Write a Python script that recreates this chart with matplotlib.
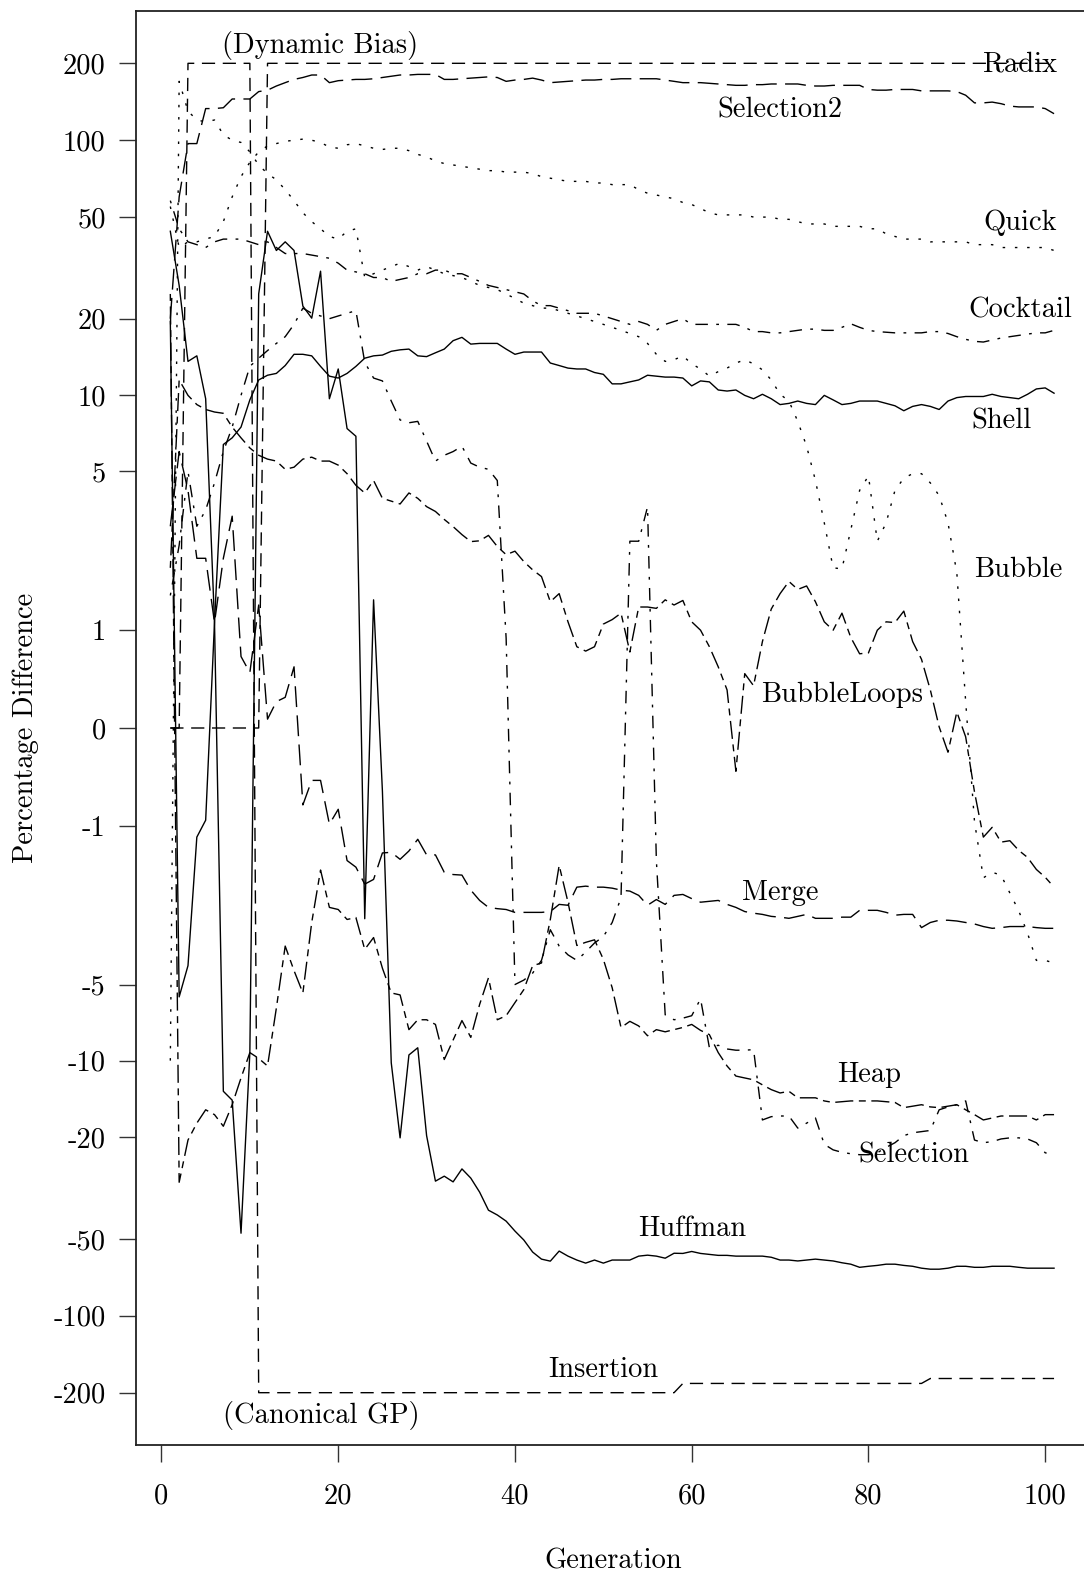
import numpy as np
import matplotlib
matplotlib.use("Agg")
import matplotlib.pyplot as plt
from matplotlib.ticker import NullLocator

plt.rcParams['font.family'] = ['cmr10', 'DejaVu Serif']
plt.rcParams['axes.unicode_minus'] = False
plt.rcParams['mathtext.fontset'] = 'cm'

generations = np.arange(1, 102)

radix = [0, 0, 0, 0, 0, 0, 0, 0, 0, 0, 0, 200, 200, 200, 200, 200, 200, 200, 200, 200,
         200, 200, 200, 200, 200, 200, 200, 200, 200, 200, 200, 200, 200, 200, 200, 200, 200, 200, 200, 200,
         200, 200, 200, 200, 200, 200, 200, 200, 200, 200, 200, 200, 200, 200, 200, 200, 200, 200, 200, 200,
         200, 200, 200, 200, 200, 200, 200, 200, 200, 200, 200, 200, 200, 200, 200, 200, 200, 200, 200, 200,
         200, 200, 200, 200, 200, 200, 200, 200, 200, 200, 200, 200, 200, 200, 200, 200, 200, 200, 200, 200,
         200]

insertion = [0, 0, 200, 200, 200, 200, 200, 200, 200, 200, -200, -200, -200, -200, -200, -200, -200, -200, -200, -200,
             -200, -200, -200, -200, -200, -200, -200, -200, -200, -200, -200, -200, -200, -200, -200, -200, -200, -200, -200, -200,
             -200, -200, -200, -200, -200, -200, -200, -200, -200, -200, -200, -200, -200, -200, -200, -200, -200, -200, -184, -184,
             -184, -184, -184, -184, -184, -184, -184, -184, -184, -184, -184, -184, -184, -184, -184, -184, -184, -184, -184, -184,
             -184, -184, -184, -184, -184, -184, -176, -176, -176, -176, -176, -176, -176, -176, -176, -176, -176, -176, -176, -176,
             -176]

selection2 = [20, 60, 97, 97, 133, 133, 134, 145, 145, 145, 155, 157, 163, 168, 173, 176, 180, 180, 168, 171,
              172, 173, 173, 174, 176, 178, 180, 180, 181, 181, 181, 173, 173, 174, 175, 176, 177, 176, 170, 172,
              173, 175, 172, 168, 169, 170, 171, 172, 172, 173, 173, 174, 174, 174, 174, 174, 172, 170, 168, 168,
              168, 167, 166, 165, 164, 164, 165, 165, 166, 166, 166, 166, 164, 163, 163, 164, 164, 164, 164, 158,
              157, 157, 158, 158, 158, 156, 156, 156, 156, 155, 150, 140, 140, 141, 139, 136, 135, 135, 135, 133,
              127]

quick = [55, 38, 40, 40, 41, 42, 48, 60, 72, 82, 90, 95, 97, 99, 100, 101, 100, 98, 94, 93,
         96, 97, 95, 93, 92, 93, 93, 91, 88, 86, 83, 81, 80, 79, 78, 77, 76, 76, 75, 75,
         75, 74, 72, 71, 70, 69, 69, 69, 68, 68, 67, 67, 67, 64, 62, 61, 60, 59, 57, 56,
         54, 52, 51, 51, 51, 51, 50, 50, 50, 49, 49, 48, 47, 47, 47, 46, 46, 46, 46, 45,
         45, 43, 42, 41, 41, 41, 40, 40, 40, 40, 40, 39, 39, 39, 38, 38, 38, 38, 38, 38,
         37]

cocktail = [58, 45, 40, 39, 38, 40, 41, 41, 41, 40, 39, 40, 38, 36, 36, 36, 35.5, 35, 34.5, 33,
            31, 30.5, 30, 29, 29, 28, 28.5, 29, 30, 30, 31, 31, 30, 30, 29, 28, 27, 26.5, 26, 25.5,
            25, 23.5, 22.5, 22.5, 22, 21.5, 21, 21, 21, 20.5, 20, 19.5, 19, 19.5, 19, 18, 19, 19.5, 20, 19,
            19, 19, 19, 19, 19, 18.5, 17.8, 17.8, 17.6, 17.6, 17.8, 18, 18.2, 18.2, 18, 18, 18.5, 19.1, 18.5, 18,
            17.8, 17.7, 17.6, 17.6, 17.6, 17.6, 17.8, 17.8, 17.5, 17, 16.6, 16.3, 16.2, 16.5, 16.8, 17, 17.2, 17.4, 17.6, 17.6,
            18]

shell = [19.5, -5.6, -4.2, -1.15, -0.93, 1.1, 6.4, 6.8, 7.5, 9.6, 11.5, 12, 12.2, 13.1, 14.5, 14.5, 14.3, 13.0, 11.9, 11.7,
         12.2, 13.0, 14.0, 14.3, 14.4, 14.9, 15.1, 15.2, 14.3, 14.2, 14.7, 15.2, 16.4, 16.9, 15.9, 16, 16, 16, 15.2, 14.5,
         14.8, 14.8, 14.8, 13.4, 13.1, 12.8, 12.7, 12.7, 12.3, 12.1, 11.1, 11.1, 11.3, 11.5, 12, 11.9, 11.8, 11.8, 11.7, 10.9,
         11.4, 11.3, 10.5, 10.4, 10.5, 10.0, 9.7, 10.1, 9.7, 9.2, 9.3, 9.5, 9.3, 9.2, 10.0, 9.6, 9.2, 9.3, 9.5, 9.5,
         9.5, 9.3, 9.1, 8.7, 9.05, 9.2, 9.05, 8.8, 9.5, 9.8, 9.9, 9.9, 9.9, 10.1, 9.9, 9.8, 9.7, 10.1, 10.6, 10.7,
         10.2]

bubble = [-10, 170, 130, 120, 118, 120, 105, 100, 98, 90, 80, 74, 70, 64, 58, 52, 48, 45, 42, 41,
          44, 45, 29, 30, 31, 32, 33, 32, 31, 32, 31, 30, 29.5, 29, 28, 27, 26.5, 26, 25, 24,
          23, 22.5, 22, 22, 21.5, 21, 20.5, 20, 19.5, 19, 18.5, 18, 17.5, 17, 16, 14.5, 13.6, 13.8, 14.3, 13.3,
          12.7, 11.9, 12.4, 12.8, 13.4, 13.8, 13.3, 12.6, 11.5, 10.1, 9.5, 7.9, 6.3, 4.6, 3.1, 2.0, 1.98, 2.9, 4.2, 4.8,
          2.6, 3.1, 4.2, 4.7, 4.9, 4.9, 4.5, 4.0, 3.1, 1.9, 0.24, -0.95, -1.8, -1.7, -1.75, -2.1, -2.5, -3.1, -4.0, -4.0,
          -4.1]

bubble_loops = [2, 11.5, 10, 9.2, 8.8, 8.6, 8.5, 7.5, 6.8, 6.2, 5.8, 5.6, 5.5, 5.1, 5.2, 5.6, 5.7, 5.5, 5.5, 5.3,
                4.9, 4.4, 4.1, 4.6, 3.9, 3.8, 3.7, 4.1, 3.9, 3.61, 3.45, 3.2, 2.99, 2.77, 2.59, 2.61, 2.75, 2.47, 2.28, 2.36,
                2.13, 1.96, 1.83, 1.40, 1.53, 1.11, 0.80, 0.75, 0.80, 1.08, 1.14, 1.23, 0.74, 1.32, 1.32, 1.30, 1.43, 1.35, 1.42, 1.11,
                1.0, 0.80, 0.58, 0.35, -0.40, 0.51, 0.39, 0.86, 1.29, 1.53, 1.74, 1.60, 1.66, 1.40, 1.11, 1.0, 1.23, 0.91, 0.72, 0.73,
                1.0, 1.11, 1.10, 1.26, 0.86, 0.66, 0.35, 0.01, -0.22, 0.145, -0.08, -0.61, -1.15, -1.02, -1.22, -1.2, -1.34, -1.45, -1.65, -1.79,
                -1.98]

merge = [3, 6, 4.2, 2.2, 2.2, 1.1, 2.2, 3.3, 0.69, 0.52, 1.35, 0.08, 0.24, 0.28, 0.58, -0.75, -0.49, -0.49, -0.98, -0.8,
         -1.5, -1.61, -1.92, -1.83, -1.38, -1.37, -1.48, -1.35, -1.18, -1.41, -1.41, -1.7, -1.74, -1.75, -2.04, -2.26, -2.42, -2.45, -2.47, -2.54,
         -2.54, -2.54, -2.54, -2.52, -2.35, -2.37, -1.98, -1.96, -1.98, -1.98, -2.0, -2.04, -2.06, -2.15, -2.37, -2.24, -2.35, -2.15, -2.13, -2.22,
         -2.3, -2.28, -2.26, -2.35, -2.42, -2.52, -2.56, -2.59, -2.64, -2.66, -2.69, -2.64, -2.59, -2.69, -2.69, -2.69, -2.66, -2.66, -2.49, -2.49,
         -2.49, -2.54, -2.61, -2.59, -2.59, -2.94, -2.8, -2.74, -2.74, -2.76, -2.8, -2.84, -2.91, -2.96, -2.94, -2.91, -2.91, -2.91, -2.94, -2.96,
         -2.96]

heap = [25, -30, -20.5, -17.6, -15.6, -16.3, -18.1, -14.9, -11.7, -9.3, -9.8, -10.5, -6.2, -3.5, -4.4, -5.4, -2.8, -1.66, -2.42, -2.47,
        -2.72, -2.67, -3.61, -3.23, -4.3, -5.4, -5.5, -7.55, -6.9, -6.9, -7.2, -9.9, -8.3, -6.95, -8.1, -6.0, -4.7, -6.9, -6.65, -5.9,
        -5.24, -4.2, -4.1, -2.72, -1.58, -2.3, -3.48, -3.38, -3.3, -3.96, -5.15, -7.41, -7.0, -7.3, -7.98, -7.55, -7.7, -7.55, -7.4, -7.2,
        -7.6, -7.9, -9.3, -10.5, -11.5, -11.7, -11.9, -12.45, -13.0, -13.4, -13.2, -14.0, -14.0, -14.0, -14.4, -14.6, -14.5, -14.4, -14.4, -14.4,
        -14.4, -14.5, -14.6, -15.3, -15.1, -14.9, -15.2, -15.3, -15.1, -14.9, -15.6, -16.3, -17.1, -16.8, -16.5, -16.5, -16.5, -16.5, -17.1, -16.3,
        -16.3]

selection = [1.5, 2.5, 5, 3, 3.5, 4.5, 6, 7.5, 10, 13, 14, 15, 16, 17, 19, 22, 21, 20.5, 20, 20.5,
             21, 21.5, 13.5, 11.7, 11.4, 9.5, 8.0, 7.8, 7.9, 6.6, 5.5, 5.8, 6.0, 6.3, 5.4, 5.2, 5.1, 4.6, 0.9, -5.0,
             -4.8, -4.5, -4.0, -3.0, -3.5, -3.8, -4.0, -3.7, -3.4, -3.2, -2.8, -2.2, 2.6, 2.6, 3.6, -1.5, -6.6, -6.9, -6.8, -6.65,
             -5.7, -8.9, -8.7, -9.0, -9.1, -9.1, -9.05, -17.1, -16.6, -16.5, -16.5, -18.4, -17.6, -16.8, -21.3, -22.4, -22.9, -23.2, -23.4, -23.4,
             -23, -21.9, -21, -19.7, -19.2, -19, -18.8, -15.6, -15.2, -14.9, -14.4, -20.5, -21, -20.8, -20.3, -20.1, -20.1, -20.3, -21, -23,
             -23.4]

huffman = [44, 27, 13.6, 14.3, 9.7, 1.1, -13.2, -14.3, -47.5, -9.3, 25, 44, 37, 40, 37, 22.4, 20.1, 30.7, 9.7, 12.7,
           7.4, 6.9, -2.7, 1.43, -0.6, -10.2, -20.1, -9.5, -8.9, -19.7, -29.7, -28.4, -29.9, -26.6, -28.9, -32.8, -38.6, -40.3, -42.6, -46.6,
           -50.5, -56.3, -60, -61.1, -55.8, -58.4, -60.5, -62.2, -60.5, -62.2, -60.5, -60.5, -60.5, -58.4, -57.9, -58.4, -59.5, -56.9, -57, -56,
           -57, -57.5, -58, -58, -58.4, -58.4, -58.4, -58.4, -59, -60.5, -60.5, -61, -60.5, -60, -60.5, -61, -62, -62.8, -64.6, -64,
           -63.5, -62.8, -62.8, -63.5, -64, -65.1, -65.7, -65.7, -65.1, -64, -64, -64.6, -64.6, -64, -64, -64, -64.6, -65.1, -65.1, -65.1,
           -65.1]

# R-like line types
dashed = (0, (9.5, 5.5))
dotted = (0, (1.8, 7))
longdash = (0, (15, 6))
dotdash = (0, (2, 6, 9, 6))
twodash = (0, (5, 4, 13, 4))

series = [
    (radix, dashed), (insertion, dashed),
    (selection2, longdash), (merge, longdash),
    (quick, dotted), (bubble, dotted),
    (cocktail, dotdash), (selection, dotdash),
    (bubble_loops, twodash), (heap, twodash),
    (shell, '-'), (huffman, '-'),
]

y_ticks = [200, 100, 50, 20, 10, 5, 1, 0, -1, -5, -10, -20, -50, -100, -200]
y_tick_labels = ['200', '100', '50', '20', '10', '5', '1', '0', '-1', '-5', '-10', '-20', '-50', '-100', '-200']
x_ticks = [0, 20, 40, 60, 80, 100]

# label text with its (generation, value) anchor at the baseline
labels = [
    ('Radix', 97.2, 186), ('Selection2', 70.0, 123), ('Quick', 97.2, 44.5),
    ('Cocktail', 97.2, 20.3), ('Shell', 95.1, 7.43), ('Bubble', 96.9, 1.82),
    ('BubbleLoops', 77.0, 0.236), ('Merge', 70.0, -2.25), ('Heap', 80.1, -12.1),
    ('Selection', 85.1, -25.2), ('Huffman', 60.1, -48.7), ('Insertion', 50.0, -173),
    ('(Dynamic Bias)', 18.0, 219), ('(Canonical GP)', 18.1, -262),
]

W, H = 1084, 1573
fig = plt.figure(figsize=(W / 100, H / 100), dpi=100)
ax = fig.add_axes([135.5 / W, (H - 1445) / H, (1100 - 135.5) / W, (1445 - 11) / H])
ax.set_yscale('asinh', linear_width=1.0)

for values, ls in series:
    ax.plot(generations, values, color='black', lw=1.0, linestyle=ls)

for text, gx, gy in labels:
    ax.text(gx, gy, text, ha='center', va='baseline', fontsize=20.5)

ax.set_xlim(-2.94, 106.2)
ax.set_ylim(-320.5, 320.5)
ax.set_yticks(y_ticks, labels=y_tick_labels)
ax.set_xticks(x_ticks, labels=[str(t) for t in x_ticks])
ax.yaxis.set_minor_locator(NullLocator())
ax.xaxis.set_minor_locator(NullLocator())
ax.tick_params(axis='both', direction='out', length=12.5, width=1.0, labelsize=20.5, color='#333333')
ax.tick_params(axis='y', pad=9)
ax.tick_params(axis='x', pad=15)
ax.spines['right'].set_visible(False)
for side in ('left', 'top', 'bottom'):
    ax.spines[side].set_linewidth(1.3)
    ax.spines[side].set_color('#222222')

fig.text(26 / W, 1 - 728 / H, 'Percentage Difference', rotation=90,
         ha='center', va='center', fontsize=20.5)
fig.text(613 / W, 1 - 1561 / H, 'Generation', ha='center', va='center', fontsize=20.5)

fig.savefig('out.png', dpi=100)
